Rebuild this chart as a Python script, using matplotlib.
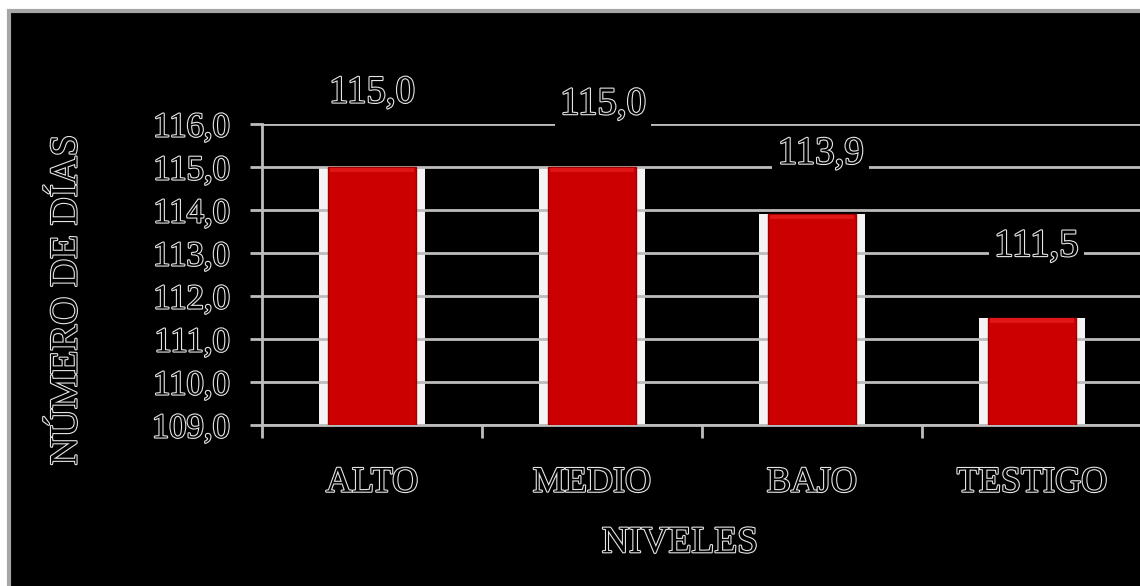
import matplotlib.pyplot as plt
import matplotlib.patheffects as pe
from matplotlib.patches import Rectangle
from typing import List

niveles: List[str] = ['ALTO', 'MEDIO', 'BAJO', 'TESTIGO']
dias: List[float] = [115.0, 115.0, 113.9, 111.5]
etiquetas: List[str] = ['115,0', '115,0', '113,9', '111,5']
yticks: List[float] = [109, 110, 111, 112, 113, 114, 115, 116]

# where each value label sits (x offset in categories, y in days)
label_dx: List[float] = [0.0, 0.05, 0.04, 0.02]
label_y: List[float] = [116.72, 116.45, 115.3, 113.15]

GRIS = '#bdbdbd'
outline = [pe.withStroke(linewidth=1.6, foreground='#e6e6e6')]
plt.rcParams['font.family'] = ['Liberation Serif', 'DejaVu Serif']

fig = plt.figure(figsize=(11.4, 5.86), dpi=100, facecolor='white')

# black panel with grey frame
fig.patches.append(Rectangle((9 / 1140, -0.05), 1.1, 1 - 11 / 586 + 0.05,
                             transform=fig.transFigure, facecolor='black',
                             edgecolor='#a6a6a6', linewidth=3, zorder=-5))

ax = fig.add_axes([262 / 1140, 161 / 586, 880 / 1140, 301 / 586])
ax.patch.set_alpha(0)

x = list(range(len(niveles)))
alturas = [d - 109 for d in dias]
ax.bar(x, alturas, width=0.48, bottom=109, color='#f4f4f4', zorder=1)
ax.bar(x, alturas, width=0.40, bottom=109, color='#cc0000',
       edgecolor='#a00000', linewidth=1, zorder=3)
# bevel on the bar tops
ax.bar(x, [0.1] * len(dias), width=0.385, bottom=[d - 0.12 for d in dias],
       color='#e01616', linewidth=0, zorder=4)

ax.set_ylim(109, 116)
ax.set_xlim(-0.5, 3.5)
ax.set_yticks(yticks)
ax.set_yticklabels([f'{v:.1f}'.replace('.', ',') for v in yticks])
ax.set_xticks(x)
ax.set_xticklabels(niveles)
ax.set_xticks([-0.5, 0.5, 1.5, 2.5], minor=True)

ax.yaxis.grid(True, color=GRIS, linewidth=2, zorder=2)
ax.set_axisbelow(False)
for s in ['top', 'right']:
    ax.spines[s].set_visible(False)
for s in ['left', 'bottom']:
    ax.spines[s].set_color(GRIS)
    ax.spines[s].set_linewidth(2)
    ax.spines[s].set_zorder(2)

ax.tick_params(axis='y', length=9, width=2, color=GRIS, pad=14, labelsize=25)
ax.tick_params(axis='x', which='major', length=0, pad=30, labelsize=26)
ax.tick_params(axis='x', which='minor', length=9, width=2, color=GRIS)
for t in ax.get_yticklabels() + ax.get_xticklabels():
    t.set_color('black')
    t.set_path_effects(outline)

for i, d in enumerate(dias):
    ax.text(x[i] + label_dx[i], label_y[i], etiquetas[i], ha='center', va='center',
            fontsize=28, color='black', path_effects=outline, clip_on=False, zorder=6,
            bbox=dict(facecolor='black', edgecolor='none', pad=4))

fig.text(67 / 1140, 1 - 300 / 586, 'NÚMERO DE DÍAS', rotation=90, ha='center', va='center',
         fontsize=28, color='black', path_effects=outline)
fig.text(680 / 1140, 1 - 543 / 586, 'NIVELES', ha='center', va='center',
         fontsize=27, color='black', path_effects=outline)

plt.savefig('out.png', dpi=100, facecolor='white')
